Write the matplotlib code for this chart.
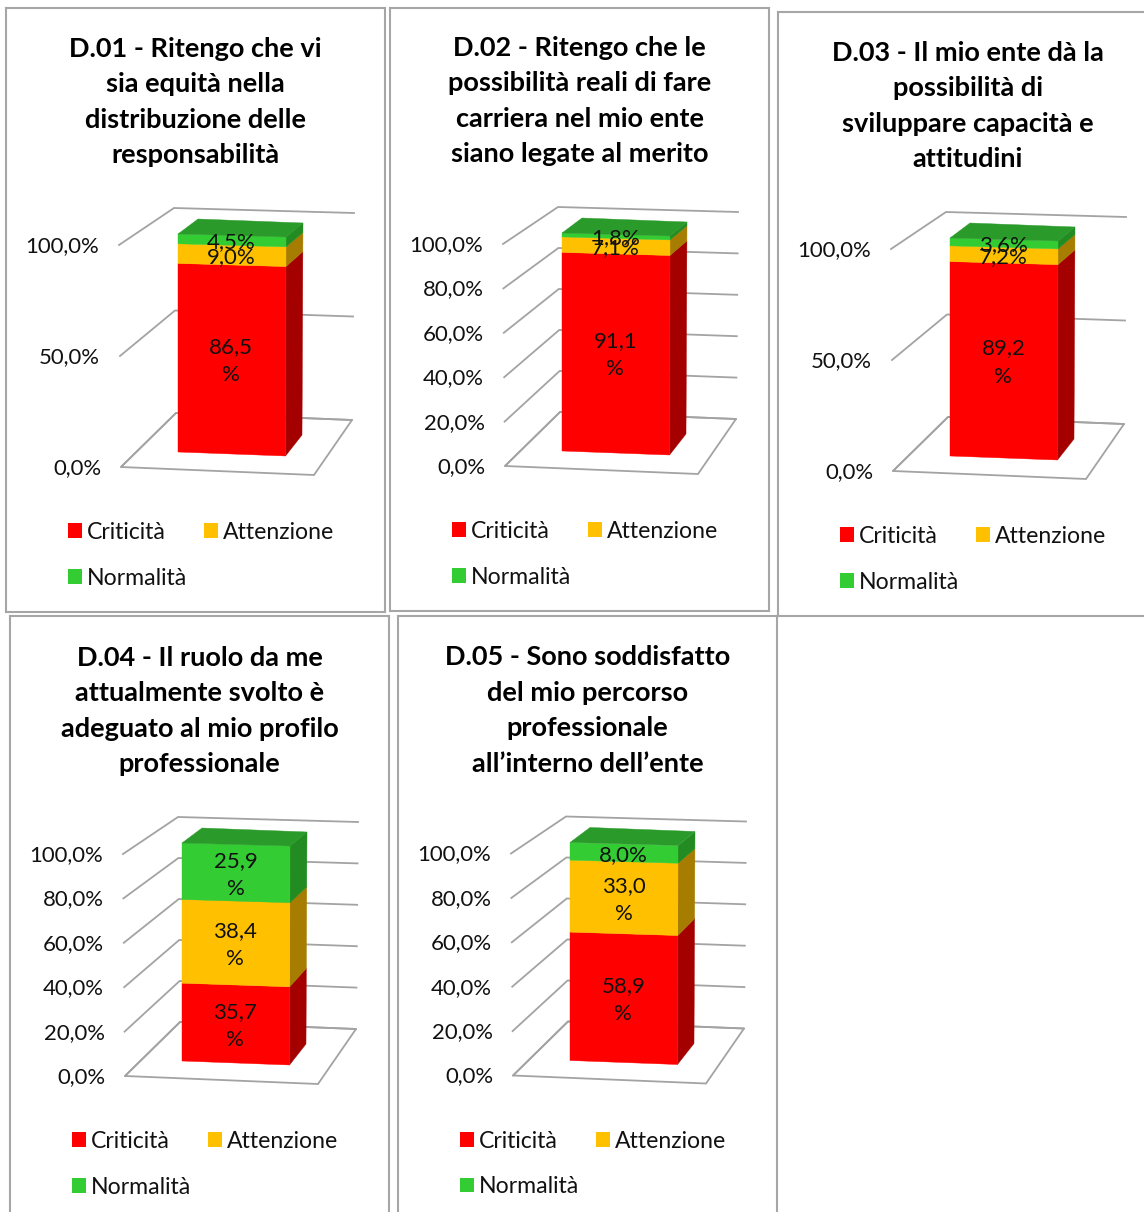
import matplotlib
matplotlib.use("Agg")
import matplotlib.pyplot as plt
from matplotlib.patches import Patch

plt.rcParams['font.family'] = ['Lato', 'DejaVu Sans']

# ---------- data ----------
titles = [
    "D.01 - Ritengo che vi\nsia equità nella\ndistribuzione delle\nresponsabilità",
    "D.02 - Ritengo che le\npossibilità reali di fare\ncarriera nel mio ente\nsiano legate al merito",
    "D.03 - Il mio ente dà la\npossibilità di\nsviluppare capacità e\nattitudini",
    "D.04 - Il ruolo da me\nattualmente svolto è\nadeguato al mio profilo\nprofessionale",
    "D.05 - Sono soddisfatto\ndel mio percorso\nprofessionale\nall’interno dell’ente",
]
series_names = ["Criticità", "Attenzione", "Normalità"]
criticita = [86.5, 91.1, 89.2, 35.7, 58.9]
attenzione = [9.0, 7.1, 7.2, 38.4, 33.0]
normalita = [4.5, 1.8, 3.6, 25.9, 8.0]
ticks_coarse = [0, 50, 100]
ticks_fine = [0, 20, 40, 60, 80, 100]
panel_ticks = [ticks_coarse, ticks_fine, ticks_coarse, ticks_fine, ticks_fine]

# ---------- style / layout ----------
W, H = 1144, 1212
FRONT = ["#FF0000", "#FFC000", "#33CC33"]
SIDE = ["#A50000", "#A67D00", "#228B22"]
TOP = "#2A9A2A"
GRID = "#A3A3A3"
FRAME = "#A6A6A6"
frames = [(6, 8, 385, 612), (390, 8, 769, 611), (778, 12, 1157, 616),
          (10, 615.5, 389, 1222), (398, 615.5, 777, 1222)]
offsets = [(0, 0), (384, -1), (772, 4), (4, 609), (392, 608.5)]

# pseudo-3D scales: (x, y) at 0 % and at 100 %
WALL_FL = ((121, 467), (119, 245))
WALL_BL = ((176, 413), (174, 208))
WALL_BR = ((352, 420), (354, 213))
FLOOR_FR = (314, 475)
BAR_FL = ((178, 452), (178, 234))
BAR_FR = ((285.5, 456), (286, 237))
BAR_BR = ((302, 435), (303, 223))
BAR_BL = ((198, 431), (198, 219))


def at(edge, v):
    (x0, y0), (x1, y1) = edge
    t = v / 100.0
    return (x0 + (x1 - x0) * t, y0 + (y1 - y0) * t)


def fmt(v, unit_break):
    s = f"{v:.1f}".replace(".", ",")
    return s + ("\n%" if unit_break else "%")


fig = plt.figure(figsize=(W / 100, H / 100), dpi=100)
fig.patch.set_facecolor("white")

for i in range(5):
    x0, y0, x1, y1 = frames[i]
    dx, dy = offsets[i]
    ax = fig.add_axes([x0 / W, 1 - y1 / H, (x1 - x0) / W, (y1 - y0) / H])
    ax.set_xlim(x0 - dx, x1 - dx)
    ax.set_ylim(y1 - dy, y0 - dy)
    ax.set_xticks([])
    ax.set_yticks([])
    for sp in ax.spines.values():
        sp.set_color(FRAME)
        sp.set_linewidth(1.5)

    # floor and wall gridlines
    ax.fill([at(WALL_FL, 0)[0], FLOOR_FR[0], at(WALL_BR, 0)[0], at(WALL_BL, 0)[0]],
            [at(WALL_FL, 0)[1], FLOOR_FR[1], at(WALL_BR, 0)[1], at(WALL_BL, 0)[1]],
            facecolor="none", edgecolor=GRID, linewidth=1.3, zorder=1)
    for t in panel_ticks[i]:
        pts = [at(WALL_FL, t), at(WALL_BL, t), at(WALL_BR, t)]
        ax.plot([p[0] for p in pts], [p[1] for p in pts], color=GRID,
                linewidth=1.3, zorder=1, solid_joinstyle="miter")
        fx, fy = at(WALL_FL, t)
        ax.text(fx - 20, fy + 1, f"{t:.1f}".replace(".", ",") + "%", ha="right",
                va="center", fontsize=15.9, color="#111111", zorder=5)

    # stacked bar
    values = [criticita[i], attenzione[i], normalita[i]]
    base = 0.0
    for j, v in enumerate(values):
        top = base + v
        a, b = at(BAR_FL, base), at(BAR_FR, base)
        c, d = at(BAR_FR, top), at(BAR_FL, top)
        ax.fill([a[0], b[0], c[0], d[0]], [a[1], b[1], c[1], d[1]],
                facecolor=FRONT[j], edgecolor=FRONT[j], linewidth=0.3, zorder=3)
        e, f = at(BAR_BR, base), at(BAR_BR, top)
        ax.fill([b[0], e[0], f[0], c[0]], [b[1], e[1], f[1], c[1]],
                facecolor=SIDE[j], edgecolor=SIDE[j], linewidth=0.3, zorder=2)
        mid = base + v / 2
        ml, mr = at(BAR_FL, mid), at(BAR_FR, mid)
        ax.text((ml[0] + mr[0]) / 2 - 0.5, (ml[1] + mr[1]) / 2 + 2, fmt(v, v >= 10),
                ha="center", va="center", fontsize=16, linespacing=1.5,
                color="#111111", zorder=6)
        base = top
    tl, tr, br, bl = at(BAR_FL, 100), at(BAR_FR, 100), at(BAR_BR, 100), at(BAR_BL, 100)
    ax.fill([tl[0], tr[0], br[0], bl[0]], [tl[1], tr[1], br[1], bl[1]],
            facecolor=TOP, edgecolor=TOP, linewidth=0.3, zorder=3)

    # title
    ax.text(195.5, 163, titles[i], ha="center", va="baseline", fontsize=19.5,
            fontweight="bold", linespacing=1.57, color="black", zorder=6)

    # legend
    handles = [Patch(facecolor=FRONT[0], label=series_names[0]),
               Patch(facecolor=FRONT[2], label=series_names[2]),
               Patch(facecolor=FRONT[1], label=series_names[1])]
    ax.legend(handles=handles, ncol=2, loc="upper left",
              bbox_to_anchor=(68, 522), bbox_transform=ax.transData,
              frameon=False, fontsize=16.6, borderpad=0, borderaxespad=0,
              handlelength=0.61, handleheight=0.61, handletextpad=0.22,
              labelspacing=1.07, columnspacing=0.7, labelcolor="#111111")

fig.savefig("out.png", dpi=100)
